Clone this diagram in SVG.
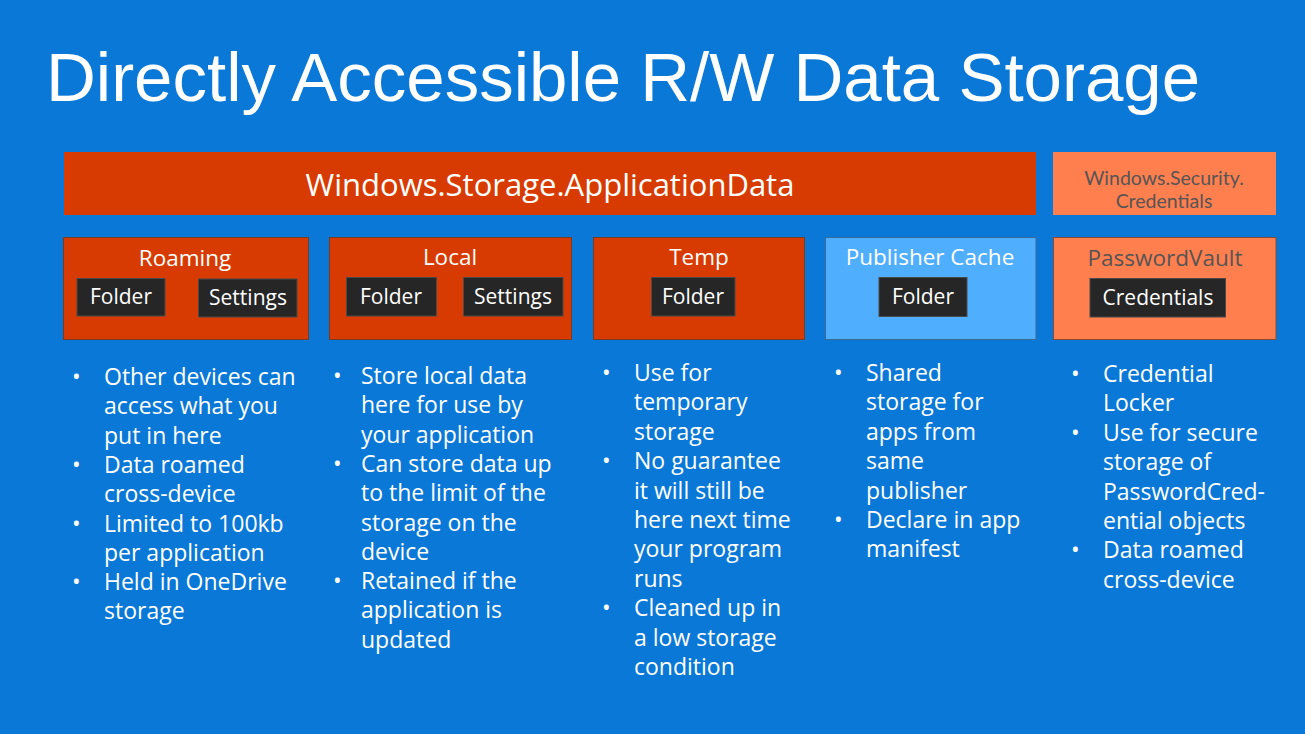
<svg xmlns="http://www.w3.org/2000/svg" width="1305" height="734" viewBox="0 0 1305 734">
<style>
.bg{fill:#0A78D7}
.org{fill:#D83B01;stroke:#7a3a20;stroke-width:1}
.lb{fill:#50AEFF;stroke:#3a6a95;stroke-width:1}
.cor{fill:#FF7F4F;stroke:#8a4a30;stroke-width:1}
.dk{fill:#262626;stroke:#4a4a4a;stroke-width:1}
.t{font-family:"Open Sans","Noto Sans","Liberation Sans",sans-serif;fill:#fff}
.h{font-size:22.5px;text-anchor:middle}
.in{font-size:21px;text-anchor:middle}
.b{font-size:23px}
.g{fill:#555}
.title{font-family:"Liberation Sans",Arial,sans-serif;fill:#fff;font-size:69px}
</style>
<rect class="bg" x="0" y="0" width="1305" height="734"/>
<text class="title" x="46" y="101" textLength="1154" lengthAdjust="spacingAndGlyphs">Directly Accessible R/W Data Storage</text>

<g id="appdata">
<rect x="64" y="152" width="972" height="63" fill="#D83B01"/>
<text class="t" x="550" y="196" font-size="31" text-anchor="middle">Windows.Storage.ApplicationData</text>
</g>
<g id="seccred">
<rect x="1053" y="152" width="223" height="63" fill="#FF7F4F"/>
<text x="1164" y="185" font-family="Lato,'Open Sans',sans-serif" font-size="19.5" fill="#555" text-anchor="middle">Windows.Security.</text>
<text x="1164" y="208" font-family="Lato,'Open Sans',sans-serif" font-size="19.5" fill="#555" text-anchor="middle">Credentials</text>
</g>

<g id="roaming">
<rect class="org" x="63.5" y="237.5" width="245" height="102"/>
<text class="t h" x="185" y="266">Roaming</text>
<rect class="dk" x="77" y="278.5" width="88" height="37.5"/>
<text class="t in" x="121" y="304">Folder</text>
<rect class="dk" x="198.5" y="279" width="98.5" height="38"/>
<text class="t in" x="248" y="305">Settings</text>
</g>
<g id="local">
<rect class="org" x="329.5" y="237.5" width="242" height="102"/>
<text class="t h" x="450" y="265">Local</text>
<rect class="dk" x="346.5" y="277.5" width="90" height="38.5"/>
<text class="t in" x="391" y="304">Folder</text>
<rect class="dk" x="463.5" y="277.5" width="99.5" height="38.5"/>
<text class="t in" x="513" y="304">Settings</text>
</g>
<g id="temp">
<rect class="org" x="593.5" y="237.5" width="211" height="102"/>
<text class="t h" x="699" y="265">Temp</text>
<rect class="dk" x="651.5" y="277.5" width="83.5" height="38.5"/>
<text class="t in" x="693" y="304">Folder</text>
</g>
<g id="publisher">
<rect class="lb" x="825.5" y="237.5" width="210.5" height="102"/>
<text class="t h" x="930" y="265">Publisher Cache</text>
<rect class="dk" x="879" y="277.5" width="88" height="39"/>
<text class="t in" x="923" y="304">Folder</text>
</g>
<g id="vault">
<rect class="cor" x="1053.5" y="237.5" width="222.5" height="102"/>
<text class="t h g" x="1165" y="266">PasswordVault</text>
<rect class="dk" x="1090" y="278.5" width="135.5" height="38.5"/>
<text class="t in" x="1158" y="305">Credentials</text>
</g>

<g id="roaming-notes" class="t b">
<text x="72" y="385">•</text>
<text x="104" y="385">Other devices can</text>
<text x="104" y="414.3">access what you</text>
<text x="104" y="443.6">put in here</text>
<text x="72" y="472.9">•</text>
<text x="104" y="472.9">Data roamed</text>
<text x="104" y="502.2">cross-device</text>
<text x="72" y="531.5">•</text>
<text x="104" y="531.5">Limited to 100kb</text>
<text x="104" y="560.8">per application</text>
<text x="72" y="590.1">•</text>
<text x="104" y="590.1">Held in OneDrive</text>
<text x="104" y="619.4">storage</text>
</g>
<g id="local-notes" class="t b">
<text x="333" y="384">•</text>
<text x="361" y="384">Store local data</text>
<text x="361" y="413.3">here for use by</text>
<text x="361" y="442.6">your application</text>
<text x="333" y="471.9">•</text>
<text x="361" y="471.9">Can store data up</text>
<text x="361" y="501.2">to the limit of the</text>
<text x="361" y="530.5">storage on the</text>
<text x="361" y="559.8">device</text>
<text x="333" y="589.1">•</text>
<text x="361" y="589.1">Retained if the</text>
<text x="361" y="618.4">application is</text>
<text x="361" y="647.7">updated</text>
</g>
<g id="temp-notes" class="t b">
<text x="602" y="381">•</text>
<text x="634" y="381">Use for</text>
<text x="634" y="410.4">temporary</text>
<text x="634" y="439.8">storage</text>
<text x="602" y="469.2">•</text>
<text x="634" y="469.2">No guarantee</text>
<text x="634" y="498.6">it will still be</text>
<text x="634" y="528">here next time</text>
<text x="634" y="557.4">your program</text>
<text x="634" y="586.8">runs</text>
<text x="602" y="616.2">•</text>
<text x="634" y="616.2">Cleaned up in</text>
<text x="634" y="645.6">a low storage</text>
<text x="634" y="675">condition</text>
</g>
<g id="publisher-notes" class="t b">
<text x="834" y="381">•</text>
<text x="866" y="381">Shared</text>
<text x="866" y="410.4">storage for</text>
<text x="866" y="439.8">apps from</text>
<text x="866" y="469.2">same</text>
<text x="866" y="498.6">publisher</text>
<text x="834" y="528">•</text>
<text x="866" y="528">Declare in app</text>
<text x="866" y="557.4">manifest</text>
</g>
<g id="vault-notes" class="t b">
<text x="1071" y="382">•</text>
<text x="1103" y="382">Credential</text>
<text x="1103" y="411.4">Locker</text>
<text x="1071" y="440.8">•</text>
<text x="1103" y="440.8">Use for secure</text>
<text x="1103" y="470.2">storage of</text>
<text x="1103" y="499.6">PasswordCred-</text>
<text x="1103" y="529">ential objects</text>
<text x="1071" y="558.4">•</text>
<text x="1103" y="558.4">Data roamed</text>
<text x="1103" y="587.8">cross-device</text>
</g>
</svg>
